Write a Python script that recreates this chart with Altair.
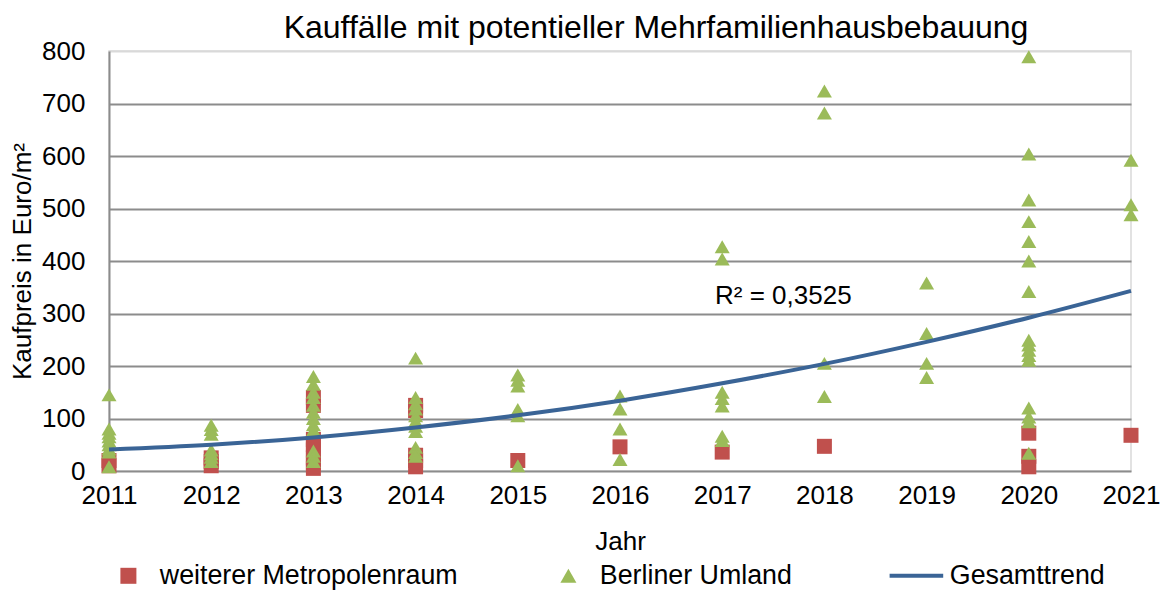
import altair as alt
import pandas as pd

FONT = "Liberation Sans"

years = list(range(2011, 2022))

# weiterer Metropolenraum (red squares), values per year in Euro/m²
metro_2011 = [20, 10]
metro_2012 = [25, 18, 10]
metro_2013 = [140, 125, 60, 50, 40, 25, 15, 5]
metro_2014 = [125, 115, 30, 20, 8]
metro_2015 = [20]
metro_2016 = [46]
metro_2017 = [36]
metro_2018 = [47]
metro_2019 = []
metro_2020 = [72, 28, 8]
metro_2021 = [68]

# Berliner Umland (green triangles)
umland_2011 = [145, 80, 72, 65, 57, 50, 42, 36, 8]
umland_2012 = [87, 79, 70, 40, 33, 26, 18]
umland_2013 = [180, 165, 150, 140, 125, 112, 100, 88, 78, 38, 28, 18]
umland_2014 = [215, 140, 128, 118, 105, 95, 85, 75, 45, 35, 28]
umland_2015 = [183, 173, 162, 117, 105, 10]
umland_2016 = [143, 118, 80, 22]
umland_2017 = [427, 404, 150, 138, 124, 66, 58]
umland_2018 = [724, 682, 205, 142]
umland_2019 = [358, 262, 205, 178]
umland_2020 = [789, 604, 516, 475, 437, 400, 342, 249, 240, 230, 220, 211, 120, 103, 94, 34]
umland_2021 = [592, 507, 488]

# Gesamttrend (at each year)
trend_values = [41, 50, 64, 83, 106, 134, 167, 204, 246, 292, 343]

r2_label = ["R² = 0,3525"]
r2_year = [2016.93]
r2_price = [333]

series_names = ["weiterer Metropolenraum", "Berliner Umland", "Gesamttrend"]
series_colors = ["#C0504D", "#9BBB59", "#3A6496"]
series_shapes = ["square", "triangle-up", "M-3.6,-0.25H3.1V0.25H-3.6Z"]

metro = [metro_2011, metro_2012, metro_2013, metro_2014, metro_2015, metro_2016,
         metro_2017, metro_2018, metro_2019, metro_2020, metro_2021]
umland = [umland_2011, umland_2012, umland_2013, umland_2014, umland_2015, umland_2016,
          umland_2017, umland_2018, umland_2019, umland_2020, umland_2021]

rows = []
for yr, vals in zip(years, metro):
    for v in vals:
        rows.append({"series": series_names[0], "year": yr, "price": v})
for yr, vals in zip(years, umland):
    for v in vals:
        rows.append({"series": series_names[1], "year": yr, "price": v})
points_df = pd.DataFrame(rows)
trend_df = pd.DataFrame({"year": years, "price": trend_values})
label_df = pd.DataFrame({"year": r2_year, "price": r2_price, "label": r2_label})

x_scale = alt.Scale(domain=[2011, 2021], nice=False, zero=False)
y_scale = alt.Scale(domain=[0, 800], nice=False)

x_enc = alt.X("year:Q", scale=x_scale,
              axis=alt.Axis(values=years, format="d", title="Jahr", grid=False,
                            ticks=False, domain=False, labelPadding=11, labelFlush=False,
                            labelOverlap=False, titlePadding=20, labelFontSize=26,
                            titleFontSize=26, labelFont=FONT, titleFont=FONT,
                            titleFontWeight="normal", labelColor="black", titleColor="black"))
y_enc = alt.Y("price:Q", scale=y_scale,
              axis=alt.Axis(values=list(range(0, 801, 100)), title="Kaufpreis in Euro/m²",
                            grid=True, ticks=False, domain=True, domainColor="#8c8c8c",
                            domainWidth=2, labelPadding=24, titlePadding=6,
                            labelFontSize=26, titleFontSize=26, labelFont=FONT,
                            titleFont=FONT, titleFontWeight="normal",
                            labelColor="black", titleColor="black",
                            gridColor={"condition": {"test": "datum.value >= 800", "value": "#d9d9d9"},
                                       "value": "#8c8c8c"},
                            gridWidth=2))

legend = alt.Legend(title=None, orient="none", legendX=6, legendY=511,
                    direction="horizontal", columnPadding=97, labelOffset=18,
                    symbolSize=256, symbolStrokeWidth=0, symbolOpacity=1,
                    labelFontSize=26.8, labelFont=FONT, labelColor="black",
                    labelLimit=0, padding=0)

points = alt.Chart(points_df).mark_point(filled=True, opacity=1, size=225, strokeWidth=0).encode(
    x=x_enc,
    y=y_enc,
    color=alt.Color("series:N", scale=alt.Scale(domain=series_names, range=series_colors), legend=legend),
    shape=alt.Shape("series:N", scale=alt.Scale(domain=series_names, range=series_shapes), legend=legend),
)

trend = alt.Chart(trend_df).mark_line(color=series_colors[2], strokeWidth=4, interpolate="monotone").encode(
    x="year:Q", y="price:Q"
)

label = alt.Chart(label_df).mark_text(align="left", baseline="middle", fontSize=26, font=FONT,
                                      color="black").encode(
    x="year:Q", y="price:Q", text="label:N"
)

chart = alt.layer(points, trend, label).properties(
    width=1022,
    height=420,
    title=alt.TitleParams("Kauffälle mit potentieller Mehrfamilienhausbebauung", fontSize=32,
                          font=FONT, fontWeight="normal", color="black", anchor="middle",
                          dx=36, offset=-7),
    autosize=alt.AutoSizeParams(type="none"),
    padding={"left": 101, "top": 43, "right": 29, "bottom": 120},
).configure(background="white").configure_view(stroke="#d9d9d9", strokeWidth=1.5)

chart.save("out.html", embed_options={"renderer": "svg", "actions": False})
